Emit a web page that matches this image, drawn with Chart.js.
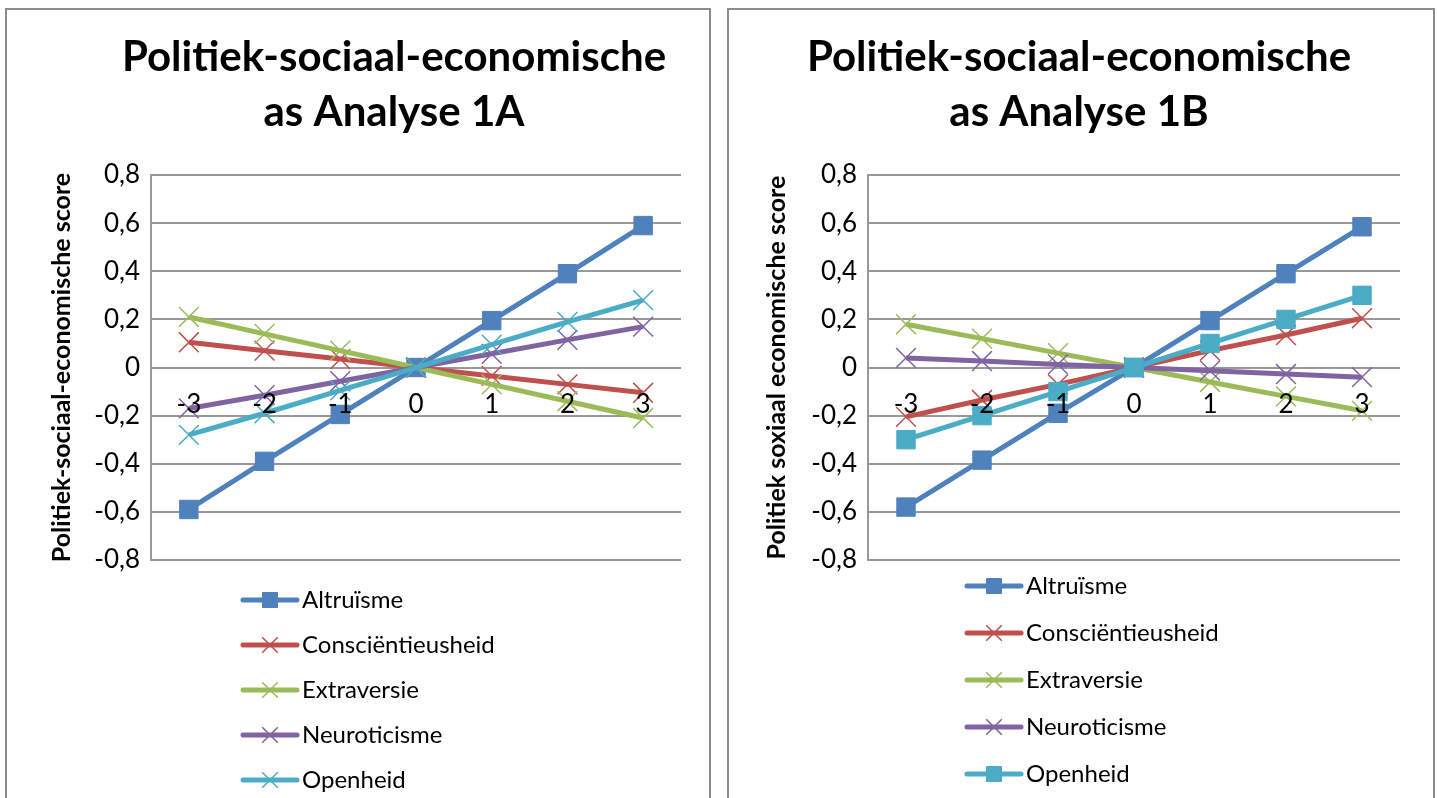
<!DOCTYPE html>
<html><head><meta charset="utf-8">
<script src="https://cdn.jsdelivr.net/npm/chart.js@4.4.1/dist/chart.umd.min.js"></script>
<style>
html,body{margin:0;padding:0;background:#fff;width:1437px;height:798px;overflow:hidden;}
.panel{position:absolute;top:8px;height:800px;border:2px solid #8c8c8c;box-sizing:border-box;background:#fff;}
#p1{left:5px;width:706px;}
#p2{left:727px;width:708px;}
canvas{position:absolute;left:0;top:0;}
</style></head><body>
<div class="panel" id="p1"><canvas id="c1" width="702" height="788"></canvas></div>
<div class="panel" id="p2"><canvas id="c2" width="704" height="788"></canvas></div>
<script>
// ---- data ----
const categories = ['-3', '-2', '-1', '0', '1', '2', '3'];
const seriesNames = ['Altruïsme', 'Consciëntieusheid', 'Extraversie', 'Neuroticisme', 'Openheid'];
const titleA = ['Politiek-sociaal-economische', 'as Analyse 1A'];
const titleB = ['Politiek-sociaal-economische', 'as Analyse 1B'];
const yTitleA = 'Politiek-sociaal-economische score';
const yTitleB = 'Politiek soxiaal economische score';
const yMin = -0.8, yMax = 0.8, yStep = 0.2;

const altruismeA = [-0.59, -0.39, -0.195, 0, 0.195, 0.39, 0.59];
const conscA     = [0.105, 0.07, 0.035, 0, -0.035, -0.07, -0.105];
const extraA     = [0.21, 0.14, 0.07, 0, -0.07, -0.14, -0.21];
const neuroA     = [-0.17, -0.115, -0.057, 0, 0.057, 0.115, 0.17];
const openA      = [-0.28, -0.19, -0.095, 0, 0.095, 0.19, 0.28];

const altruismeB = [-0.58, -0.385, -0.19, 0, 0.195, 0.39, 0.585];
const conscB     = [-0.205, -0.135, -0.07, 0, 0.07, 0.135, 0.205];
const extraB     = [0.18, 0.12, 0.06, 0, -0.06, -0.12, -0.18];
const neuroB     = [0.04, 0.027, 0.013, 0, -0.013, -0.027, -0.04];
const openB      = [-0.3, -0.2, -0.1, 0, 0.1, 0.2, 0.3];

// ---- styles ----
const colors = ['#4F81BD', '#C0504D', '#9BBB59', '#8064A2', '#4BACC6'];
const FONT = 'Lato';
Chart.defaults.font.family = FONT;
Chart.defaults.color = '#000';

function drawMarker(ctx, style, r, bw, x, y) {
  if (Chart.helpers && Chart.helpers.drawPoint) {
    Chart.helpers.drawPoint(ctx, {pointStyle: style, radius: r, borderWidth: bw, rotation: 0}, x, y);
  }
}

const lineLegend = {
  id: 'lineLegend',
  afterDraw(chart, args, o) {
    const ctx = chart.ctx;
    ctx.save();
    chart.data.datasets.forEach((ds, i) => {
      const y = o.y0 + i * o.dy, x = o.x;
      ctx.strokeStyle = ds.borderColor; ctx.lineWidth = 5; ctx.lineCap = 'round';
      ctx.beginPath(); ctx.moveTo(x, y); ctx.lineTo(x + o.len, y); ctx.stroke();
      ctx.lineCap = 'butt';
      ctx.fillStyle = ds.borderColor; ctx.strokeStyle = ds.borderColor;
      ctx.lineWidth = ds.pointBorderWidth;
      const r = ds.pointStyle === 'rect' ? 10.6 : 11;
      drawMarker(ctx, ds.pointStyle, r, ds.pointBorderWidth, x + o.len / 2, y);
      ctx.fillStyle = '#000';
      ctx.font = o.fontSize + 'px ' + FONT;
      ctx.textBaseline = 'middle'; ctx.textAlign = 'left';
      ctx.fillText(ds.label, x + o.len + 5, y);
    });
    ctx.restore();
  }
};

function makeDatasets(series, styles) {
  return series.map((vals, i) => ({
    label: seriesNames[i],
    data: vals,
    yAxisID: 'y',
    borderColor: colors[i],
    backgroundColor: colors[i],
    borderWidth: 5,
    pointStyle: styles[i],
    pointRadius: styles[i] === 'rect' ? 13 : 14,
    pointBorderWidth: styles[i] === 'rect' ? 1 : 1.5,
    pointBackgroundColor: colors[i],
    pointBorderColor: colors[i],
    tension: 0,
    order: series.length - i
  }));
}

function fmt(v) {
  const r = Math.round(v * 10) / 10;
  if (r === 0) return '0';
  return r.toFixed(1).replace('.', ',');
}

function makeChart(id, series, styles, title, yTitle, L) {
  const scales = {
    x: {
      type: 'category', offset: true, position: {y: 0},
      grid: {display: false, drawTicks: false},
      border: {display: false},
      ticks: {z: 1, padding: 21.5, font: {size: 26}, color: '#000', maxRotation: 0, autoSkip: false}
    },
    y: {
      position: 'left',
      min: yMin, max: yMax,
      ticks: {stepSize: yStep, padding: 11, font: {size: 26}, color: '#000', callback: fmt},
      grid: {color: '#999999', lineWidth: 2, drawTicks: false},
      border: {display: true, color: '#999999', width: 2},
      title: {display: true, text: yTitle, color: '#000',
        font: {size: 25, weight: 'bold', lineHeight: 1.2},
        padding: {top: L.ytp, bottom: 0}},
      afterFit(s) { s.width = L.yw; }
    }
  };
  if (L.rw > 0) {
    scales.ySpace = {
      position: 'right', min: yMin, max: yMax,
      grid: {display: false, drawTicks: false},
      border: {display: false},
      ticks: {display: false},
      afterFit(s) { s.width = L.rw; }
    };
  }
  new Chart(document.getElementById(id), {
    type: 'line',
    data: {labels: categories, datasets: makeDatasets(series, styles)},
    plugins: [lineLegend],
    options: {
      responsive: false, animation: false, events: [], devicePixelRatio: 1,
      layout: {padding: {left: L.pl, right: L.pr, top: 0, bottom: L.pb}},
      plugins: {
        legend: {display: false}, tooltip: {enabled: false},
        title: {display: true, text: title, color: '#000',
          font: {size: 42, weight: 'bold', lineHeight: 1.31},
          padding: {top: 19.5, bottom: 35.5}},
        lineLegend: L.legend
      },
      scales
    }
  });
}

makeChart('c1', [altruismeA, conscA, extraA, neuroA, openA],
  ['rect', 'crossRot', 'crossRot', 'crossRot', 'crossRot'], titleA, yTitleA,
  {pl: 72, pr: 0, rw: 28, pb: 238, yw: 72, ytp: -32,
   legend: {x: 236, y0: 590, dy: 45, len: 54, fontSize: 24}});

makeChart('c2', [altruismeB, conscB, extraB, neuroB, openB],
  ['rect', 'crossRot', 'crossRot', 'crossRot', 'rect'], titleB, yTitleB,
  {pl: 29, pr: 33, rw: 0, pb: 238, yw: 110, ytp: 4,
   legend: {x: 238, y0: 576, dy: 47, len: 54, fontSize: 24}});
</script>
</body></html>
